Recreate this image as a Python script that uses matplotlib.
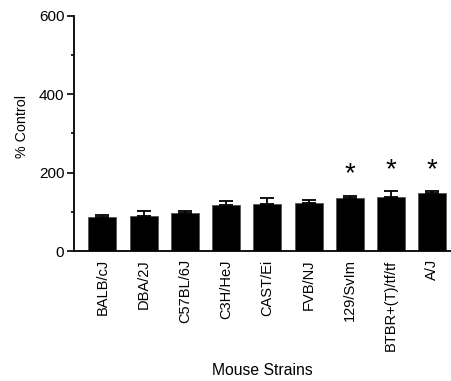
import matplotlib
matplotlib.use("Agg")
import matplotlib.pyplot as plt
import numpy as np
from matplotlib.ticker import MultipleLocator

plt.rcParams['font.family'] = ['Liberation Sans', 'DejaVu Sans']

strains = ["BALB/cJ", "DBA/2J", "C57BL/6J", "C3H/HeJ", "CAST/Ei",
           "FVB/NJ", "129/SvIm", "BTBR+(T)/tf/tf", "A/J"]
means = [86, 90, 97, 118, 121, 122, 135, 138, 148]
sem = [6, 12, 5, 10, 14, 8, 6, 14, 4]
significant = [False, False, False, False, False, False, True, True, True]

fig = plt.figure(figsize=(4.52, 3.81), dpi=100)
ax = fig.add_axes([0.1637, 0.3412, 0.8363, 0.617])

x = np.arange(len(strains))
ax.bar(x, means, width=0.68, color="black", edgecolor="#555555", linewidth=0.6, zorder=2)
ax.errorbar(x, means, yerr=[np.zeros(len(sem)), sem], fmt="none", ecolor="black",
            elinewidth=1.3, capsize=5, capthick=1.3, zorder=3)

for xi, m, s, sig in zip(x, means, sem, significant):
    if sig:
        ax.text(xi, m + s + 55, "*", ha="center", va="center", fontsize=20, color="black")

ax.set_xlim(-0.69, 8.48)
ax.set_ylim(0, 600)
ax.yaxis.set_major_locator(MultipleLocator(200))
ax.yaxis.set_minor_locator(MultipleLocator(100))
ax.tick_params(axis="y", which="major", length=5, width=1.2, labelsize=11, pad=2)
ax.tick_params(axis="y", which="minor", length=2.2, width=1.2)
ax.set_xticks(x)
ax.set_xticklabels(strains, rotation=90, fontsize=10.5)
ax.tick_params(axis="x", length=0, pad=6)

for side in ("top", "right"):
    ax.spines[side].set_visible(False)
for side in ("left", "bottom"):
    ax.spines[side].set_linewidth(1.3)

ax.set_ylabel("% Control", fontsize=10.3)
ax.yaxis.set_label_coords(-0.12, 0.53)
fig.text(0.58, 0.027, "Mouse Strains", ha="center", va="center", fontsize=11.3)

fig.savefig("out.png", dpi=100)
